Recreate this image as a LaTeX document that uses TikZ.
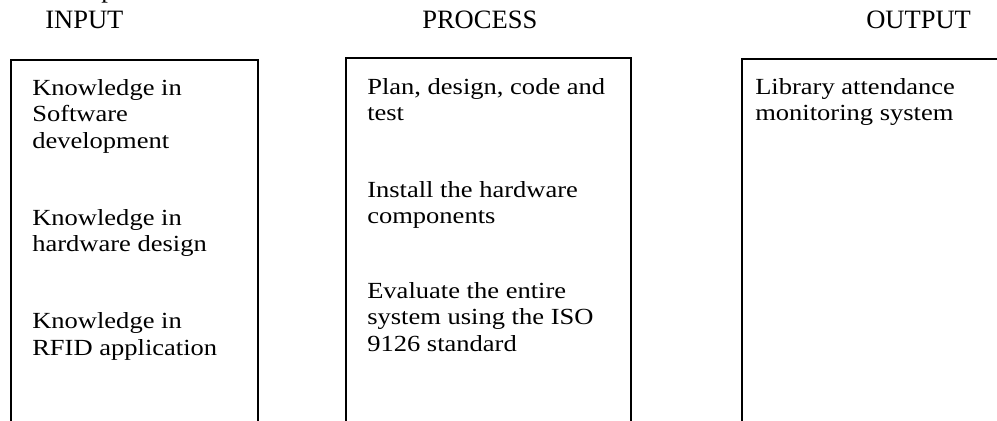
\documentclass[tikz,border=0pt]{standalone}
\usepackage{fontspec}
\setmainfont{Liberation Serif}
% body text is set slightly condensed in height
\newfontfamily\bodyfont[FakeStretch=1.15]{Liberation Serif}
\tikzset{
  frame/.style={draw=black, line width=0.9pt},
  heading/.style={anchor=base west, inner sep=0pt, font=\fontsize{19.9}{22}\selectfont},
  item/.style={anchor=base west, inner sep=0pt, font=\bodyfont\fontsize{17.3}{20}\selectfont},
}
\begin{document}
\begin{tikzpicture}[x=0.75pt, y=-0.75pt]
  \path[use as bounding box, clip] (0,0) rectangle (997,421);
  \fill[white] (0,0) rectangle (997,421);

  % descender of a line set above the page edge
  \node[heading] (stray) at (101,-2.5) {p};

  % column headings
  \node[heading] (hin)   at (45,28)  {INPUT};
  \node[heading] (hproc) at (422,28) {PROCESS};
  \node[heading] (hout)  at (866,28) {OUTPUT};

  % column frames, open at the bottom
  \draw[frame] (11,430) -- (11,60) -- (258,60) -- (258,430);
  \draw[frame] (346,430) -- (346,58) -- (631,58) -- (631,430);
  \draw[frame] (742,430) -- (742,59) -- (1005,59);

  % input column
  \node[item] (i1a) at (32,95)    {Knowledge in};
  \node[item] (i1b) at (32,121.5) {Software};
  \node[item] (i1c) at (32,148)   {development};
  \node[item] (i2a) at (32,225)   {Knowledge in};
  \node[item] (i2b) at (32,251.5) {hardware design};
  \node[item] (i3a) at (32,328.5) {Knowledge in};
  \node[item] (i3b) at (32,355)   {RFID application};

  % process column
  \node[item] (p1a) at (367,94)    {Plan, design, code and};
  \node[item] (p1b) at (367,120.5) {test};
  \node[item] (p2a) at (367,197)   {Install the hardware};
  \node[item] (p2b) at (367,223.5) {components};
  \node[item] (p3a) at (367,298)   {Evaluate the entire};
  \node[item] (p3b) at (367,324.5) {system using the ISO};
  \node[item] (p3c) at (367,351)   {9126 standard};

  % output column
  \node[item] (o1a) at (755,94)    {Library attendance};
  \node[item] (o1b) at (755,120.5) {monitoring system};
\end{tikzpicture}
\end{document}
